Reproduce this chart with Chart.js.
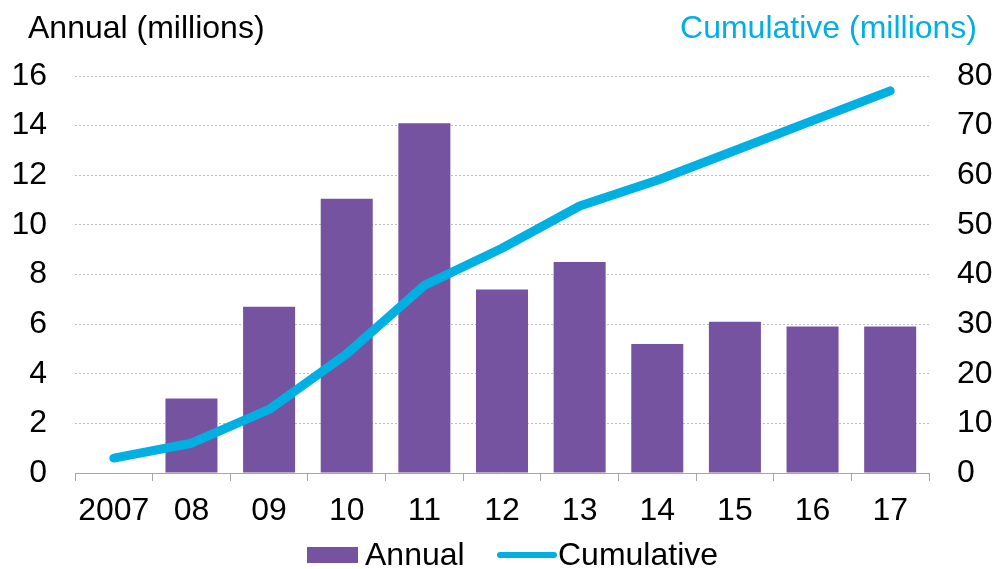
<!DOCTYPE html>
<html>
<head>
<meta charset="utf-8">
<script src="https://cdn.jsdelivr.net/npm/chart.js@4.4.1/dist/chart.umd.min.js"></script>
<style>
  html, body { margin: 0; padding: 0; background: #fff; }
  #wrap { width: 997px; height: 569px; position: relative; }
</style>
</head>
<body>
<div id="wrap"><canvas id="chart" width="997" height="569"></canvas></div>
<script>
const years = ["2007", "08", "09", "10", "11", "12", "13", "14", "15", "16", "17"];
const annual = [null, 3.0, 6.7, 11.05, 14.1, 7.4, 8.5, 5.2, 6.1, 5.9, 5.9];
const cumulative = [3.0, 6.0, 12.8, 24.0, 37.8, 45.3, 53.8, 59.0, 65.0, 71.0, 77.0];
const leftTitle = "Annual (millions)";
const rightTitle = "Cumulative (millions)";

const purple = "#7653A1";
const cyan = "#00B0E2";
const font = "'Liberation Sans', Arial, sans-serif";
const fontSize = 32;

// axis titles sit above the plot (not rotated), legend drawn by hand at the bottom
const extras = {
  id: "extras",
  afterDraw(chart) {
    const c = chart.ctx;
    c.save();
    c.font = fontSize + "px " + font;
    c.textBaseline = "alphabetic";
    c.fillStyle = "#000";
    c.textAlign = "left";
    c.fillText(leftTitle, 28, 38);
    c.fillStyle = cyan;
    c.textAlign = "right";
    c.fillText(rightTitle, 977, 38);

    // legend: Annual box, then Cumulative line
    const bar = chart.data.datasets[1];
    const line = chart.data.datasets[0];
    const cy = 555;
    let x = 307;
    c.fillStyle = bar.backgroundColor;
    c.fillRect(x, cy - 8, 51, 16);
    c.fillStyle = "#000";
    c.textAlign = "left";
    c.textBaseline = "middle";
    c.fillText(bar.label, x + 58, cy + 1);
    x = 500;
    c.strokeStyle = line.borderColor;
    c.lineWidth = 6;
    c.lineCap = "round";
    c.beginPath();
    c.moveTo(x, cy);
    c.lineTo(x + 54, cy);
    c.stroke();
    c.fillText(line.label, x + 58, cy + 1);
    c.restore();
  }
};

const ctx = document.getElementById("chart").getContext("2d");
new Chart(ctx, {
  data: {
    labels: years,
    datasets: [
      {
        type: "line",
        label: "Cumulative",
        data: cumulative,
        yAxisID: "y2",
        borderColor: cyan,
        backgroundColor: cyan,
        borderWidth: 9,
        borderCapStyle: "round",
        borderJoinStyle: "round",
        pointRadius: 0,
        tension: 0,
        order: 0
      },
      {
        type: "bar",
        label: "Annual",
        data: annual,
        yAxisID: "y",
        backgroundColor: purple,
        categoryPercentage: 1,
        barPercentage: 0.67,
        order: 1
      }
    ]
  },
  options: {
    responsive: false,
    animation: false,
    layout: { padding: { top: 76, left: 0, right: 0, bottom: 39 } },
    plugins: {
      tooltip: { enabled: false },
      legend: { display: false }
    },
    scales: {
      x: {
        offset: true,
        grid: { offset: true, drawOnChartArea: false, drawTicks: true, tickLength: 8, color: "#a6a6a6" },
        border: { color: "#a6a6a6", width: 1 },
        ticks: { font: { family: font, size: fontSize }, color: "#000", padding: 11, maxRotation: 0 },
        afterFit(s) { s.height = 57; }
      },
      y: {
        position: "left",
        min: 0, max: 16,
        ticks: { stepSize: 2, font: { family: font, size: fontSize }, color: "#000", padding: 28 },
        grid: { color: "#bdbdbd", drawTicks: false, lineWidth: 1 },
        border: { display: false, dash: [2, 2] },
        afterFit(s) { s.width = 75; }
      },
      y2: {
        position: "right",
        min: 0, max: 80,
        ticks: { stepSize: 10, font: { family: font, size: fontSize }, color: "#000", padding: 28 },
        grid: { display: false, drawTicks: false },
        border: { display: false },
        afterFit(s) { s.width = 68; }
      }
    }
  },
  plugins: [extras]
});
</script>
</body>
</html>
